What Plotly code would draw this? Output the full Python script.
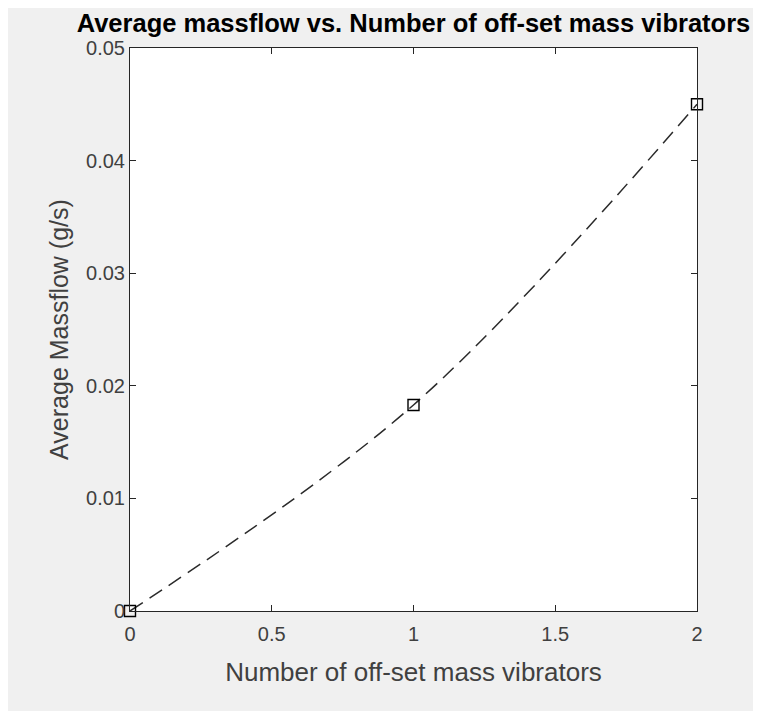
import plotly.graph_objects as go

vibrators = [0, 1, 2]
massflow = [0.0, 0.0183, 0.045]

x_ticks = [0, 0.5, 1, 1.5, 2]
x_tick_labels = ["0", "0.5", "1", "1.5", "2"]
y_ticks = [0, 0.01, 0.02, 0.03, 0.04, 0.05]
y_tick_labels = ["0", "0.01", "0.02", "0.03", "0.04", "0.05"]

axis_col = "#262626"
text_col = "#404040"
font_fam = "Liberation Sans, Arial, Helvetica, sans-serif"

fig = go.Figure()
fig.add_trace(go.Scatter(
    x=vibrators, y=massflow,
    mode="lines+markers",
    line=dict(color="#2a2a2a", width=1.5, dash="15px,8px", shape="spline", smoothing=1),
    marker=dict(symbol="square-open", size=11, color="black", line=dict(width=1.4)),
    cliponaxis=False,
    showlegend=False,
))

common = dict(
    showgrid=False, zeroline=False, showline=True, linecolor=axis_col, linewidth=1,
    mirror="ticks", ticks="inside", ticklen=6, tickwidth=1, tickcolor=axis_col,
    tickfont=dict(family=font_fam, size=20, color=text_col),
)

fig.update_layout(
    width=761, height=711,
    paper_bgcolor="#f0f0f0", plot_bgcolor="white",
    margin=dict(l=122, r=72, t=40, b=108),
    font=dict(family=font_fam, color=text_col),
    title=dict(
        text="<b>Average massflow vs. Number of off-set mass vibrators</b>",
        xref="paper", x=0.5, xanchor="center", y=0.979, yanchor="middle",
        font=dict(family=font_fam, size=25.5, color="black"),
    ),
    xaxis=dict(
        range=[0, 2], tickvals=x_ticks, ticktext=x_tick_labels,
        ticklabelstandoff=5,
        title=dict(text="Number of off-set mass vibrators",
                   font=dict(family=font_fam, size=26, color=text_col), standoff=18),
        **common,
    ),
    yaxis=dict(
        range=[0, 0.05], tickvals=y_ticks, ticktext=y_tick_labels,
        title=dict(text="Average Massflow (g/s)",
                   font=dict(family=font_fam, size=25, color=text_col), standoff=10),
        **common,
    ),
)

fig.write_html("out.html")
